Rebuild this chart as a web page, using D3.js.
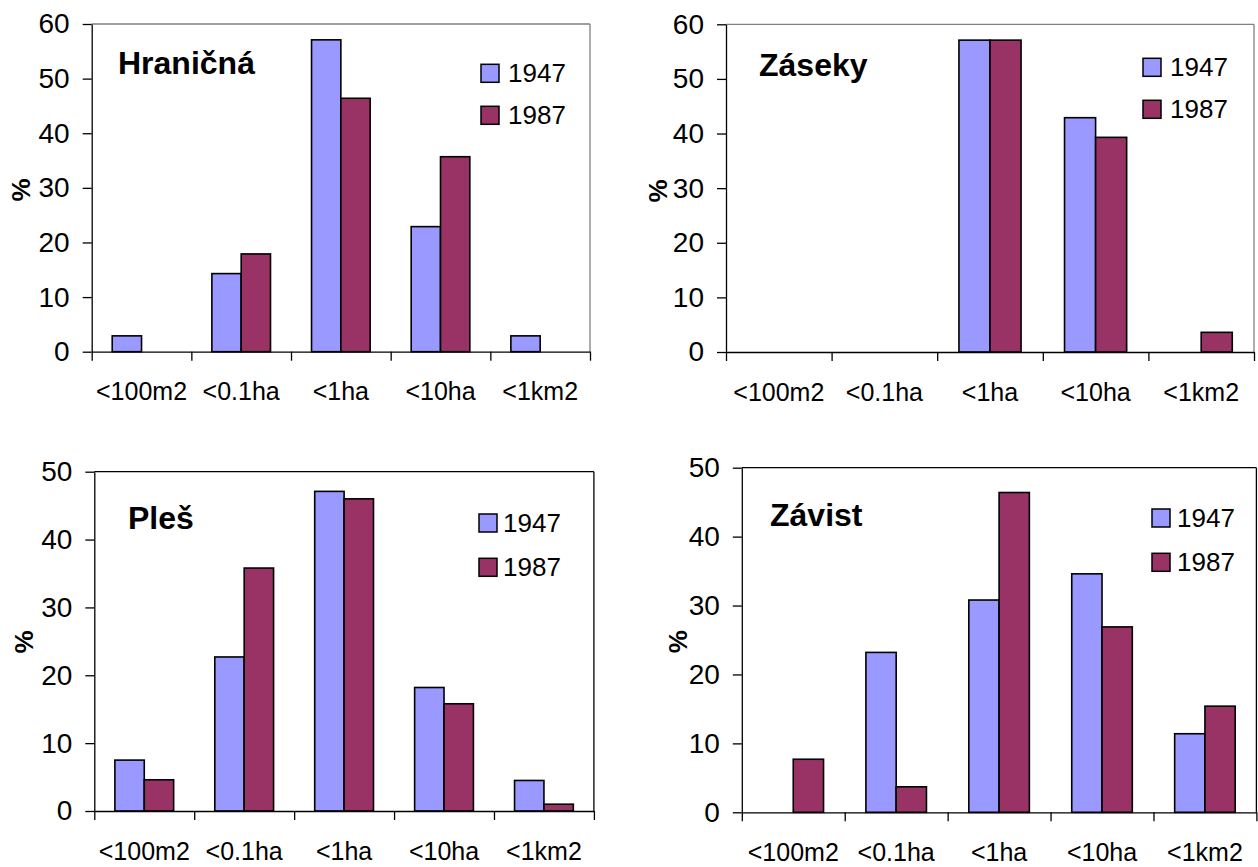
<!DOCTYPE html>
<html>
<head>
<meta charset="utf-8">
<script src="https://cdn.jsdelivr.net/npm/d3@7/dist/d3.min.js"></script>
<style>
  html, body { margin: 0; padding: 0; background: #fff; }
  svg { display: block; }
  text { font-family: "Liberation Sans", Arial, sans-serif; fill: #000; }
</style>
</head>
<body>
<svg id="chart" width="1258" height="867"></svg>
<script>
// ---- data ----
const categories = ["<100m2", "<0.1ha", "<1ha", "<10ha", "<1km2"];
const series = ["1947", "1987"];
const seriesColors = ["#9999FF", "#993366"];

const hranicna1947 = [2.9, 14.3, 57.1, 22.9, 2.9];
const hranicna1987 = [0, 17.9, 46.4, 35.7, 0];
const zaseky1947 = [0, 0, 57.1, 42.9, 0];
const zaseky1987 = [0, 0, 57.1, 39.3, 3.6];
const ples1947 = [7.5, 22.7, 47.1, 18.2, 4.5];
const ples1987 = [4.6, 35.8, 46.0, 15.8, 1.0];
const zavist1947 = [0, 23.2, 30.8, 34.6, 11.4];
const zavist1987 = [7.7, 3.7, 46.4, 26.9, 15.4];

const yTicksTop = [0, 10, 20, 30, 40, 50, 60];
const yTicksBottom = [0, 10, 20, 30, 40, 50];
const yLabel = "%";

// ---- layout ----
const panels = [
  { title: "Hraničná", v: [hranicna1947, hranicna1987], ticks: yTicksTop,
    x0: 91.7, x1: 590, yTop: 24, yZero: 351.7, border: "#808080",
    titleX: 118, titleY: 74, pctX: 20.5, pctY: 190,
    legX: 481, legY: 64.3, legDy: 42, legTx: 508 },
  { title: "Záseky", v: [zaseky1947, zaseky1987], ticks: yTicksTop,
    x0: 726, x1: 1254, yTop: 24.3, yZero: 352, border: "#808080",
    titleX: 759, titleY: 76, pctX: 658, pctY: 191,
    legX: 1143, legY: 58.3, legDy: 42, legTx: 1170 },
  { title: "Pleš", v: [ples1947, ples1987], ticks: yTicksBottom,
    x0: 94.3, x1: 593.9, yTop: 471.7, yZero: 811, border: "#000",
    titleX: 128, titleY: 529, pctX: 24, pctY: 642,
    legX: 479, legY: 514, legDy: 44.3, legTx: 503 },
  { title: "Závist", v: [zavist1947, zavist1987], ticks: yTicksBottom,
    x0: 741.8, x1: 1256.4, yTop: 467.7, yZero: 812.3, border: "#000",
    titleX: 770, titleY: 526, pctX: 677.5, pctY: 641.7,
    legX: 1152, legY: 509, legDy: 44.3, legTx: 1177 }
];

const svg = d3.select("#chart");

panels.forEach(p => {
  const g = svg.append("g");
  const yMax = p.ticks[p.ticks.length - 1];
  const y = d3.scaleLinear().domain([0, yMax]).range([p.yZero, p.yTop]);
  const x = d3.scaleBand().domain(categories).range([p.x0, p.x1]).paddingInner(0).paddingOuter(0);
  const xs = d3.scaleBand().domain(series).range([0, x.bandwidth()]).paddingInner(0).paddingOuter(0.7);
  const xb = d3.scaleLinear().domain([0, categories.length]).range([p.x0, p.x1]);

  // plot border (top and right)
  g.append("line").attr("x1", p.x0).attr("x2", p.x1).attr("y1", y(yMax)).attr("y2", y(yMax))
    .attr("stroke", p.border).attr("stroke-width", 1.3);
  g.append("line").attr("x1", p.x1).attr("x2", p.x1).attr("y1", y(yMax)).attr("y2", y(0))
    .attr("stroke", p.border).attr("stroke-width", 1.3);

  // bars
  series.forEach((s, si) => {
    g.append("g").selectAll("rect")
      .data(categories.map((c, i) => ({ c, v: p.v[si][i] })).filter(d => d.v > 0))
      .join("rect")
      .attr("x", d => x(d.c) + xs(s))
      .attr("width", xs.bandwidth())
      .attr("y", d => y(d.v))
      .attr("height", d => y(0) - y(d.v))
      .attr("fill", seriesColors[si])
      .attr("stroke", "#000")
      .attr("stroke-width", 1.6);
  });

  // y axis
  const ya = g.append("g").attr("transform", `translate(${p.x0},0)`)
    .call(d3.axisLeft(y).tickValues(p.ticks).tickFormat(d3.format("d"))
      .tickSize(9).tickSizeOuter(0).tickPadding(13));
  ya.selectAll("text").style("font-size", "28px").attr("font-family", "Liberation Sans, Arial, sans-serif");
  ya.selectAll("line, path").attr("stroke", "#000").attr("stroke-width", 1.3);

  // x axis boundary ticks
  const xa = g.append("g").attr("transform", `translate(0,${p.yZero})`)
    .call(d3.axisBottom(xb).tickValues(d3.range(categories.length + 1)).tickFormat("")
      .tickSize(9).tickSizeOuter(0));
  xa.selectAll("line, path").attr("stroke", "#000").attr("stroke-width", 1.3);

  // x axis category labels
  const xl = g.append("g").attr("transform", `translate(0,${p.yZero})`)
    .call(d3.axisBottom(x).tickSize(0).tickPadding(31));
  xl.select("path").remove();
  xl.selectAll("text").style("font-size", "25px").attr("font-family", "Liberation Sans, Arial, sans-serif");

  // y axis title
  g.append("text")
    .attr("transform", `translate(${p.pctX},${p.pctY}) rotate(-90)`)
    .attr("text-anchor", "middle")
    .attr("dominant-baseline", "central")
    .style("font-size", "26px").style("font-weight", "bold")
    .text(yLabel);

  // panel title
  g.append("text").attr("x", p.titleX).attr("y", p.titleY)
    .style("font-size", "32px").style("font-weight", "bold")
    .text(p.title);

  // legend
  series.forEach((s, si) => {
    const ly = p.legY + si * p.legDy;
    g.append("rect").attr("x", p.legX).attr("y", ly).attr("width", 18).attr("height", 18)
      .attr("fill", seriesColors[si]).attr("stroke", "#000").attr("stroke-width", 1.5);
    g.append("text").attr("x", p.legTx).attr("y", ly + 17.5)
      .style("font-size", "26px").text(s);
  });
});
</script>
</body>
</html>
